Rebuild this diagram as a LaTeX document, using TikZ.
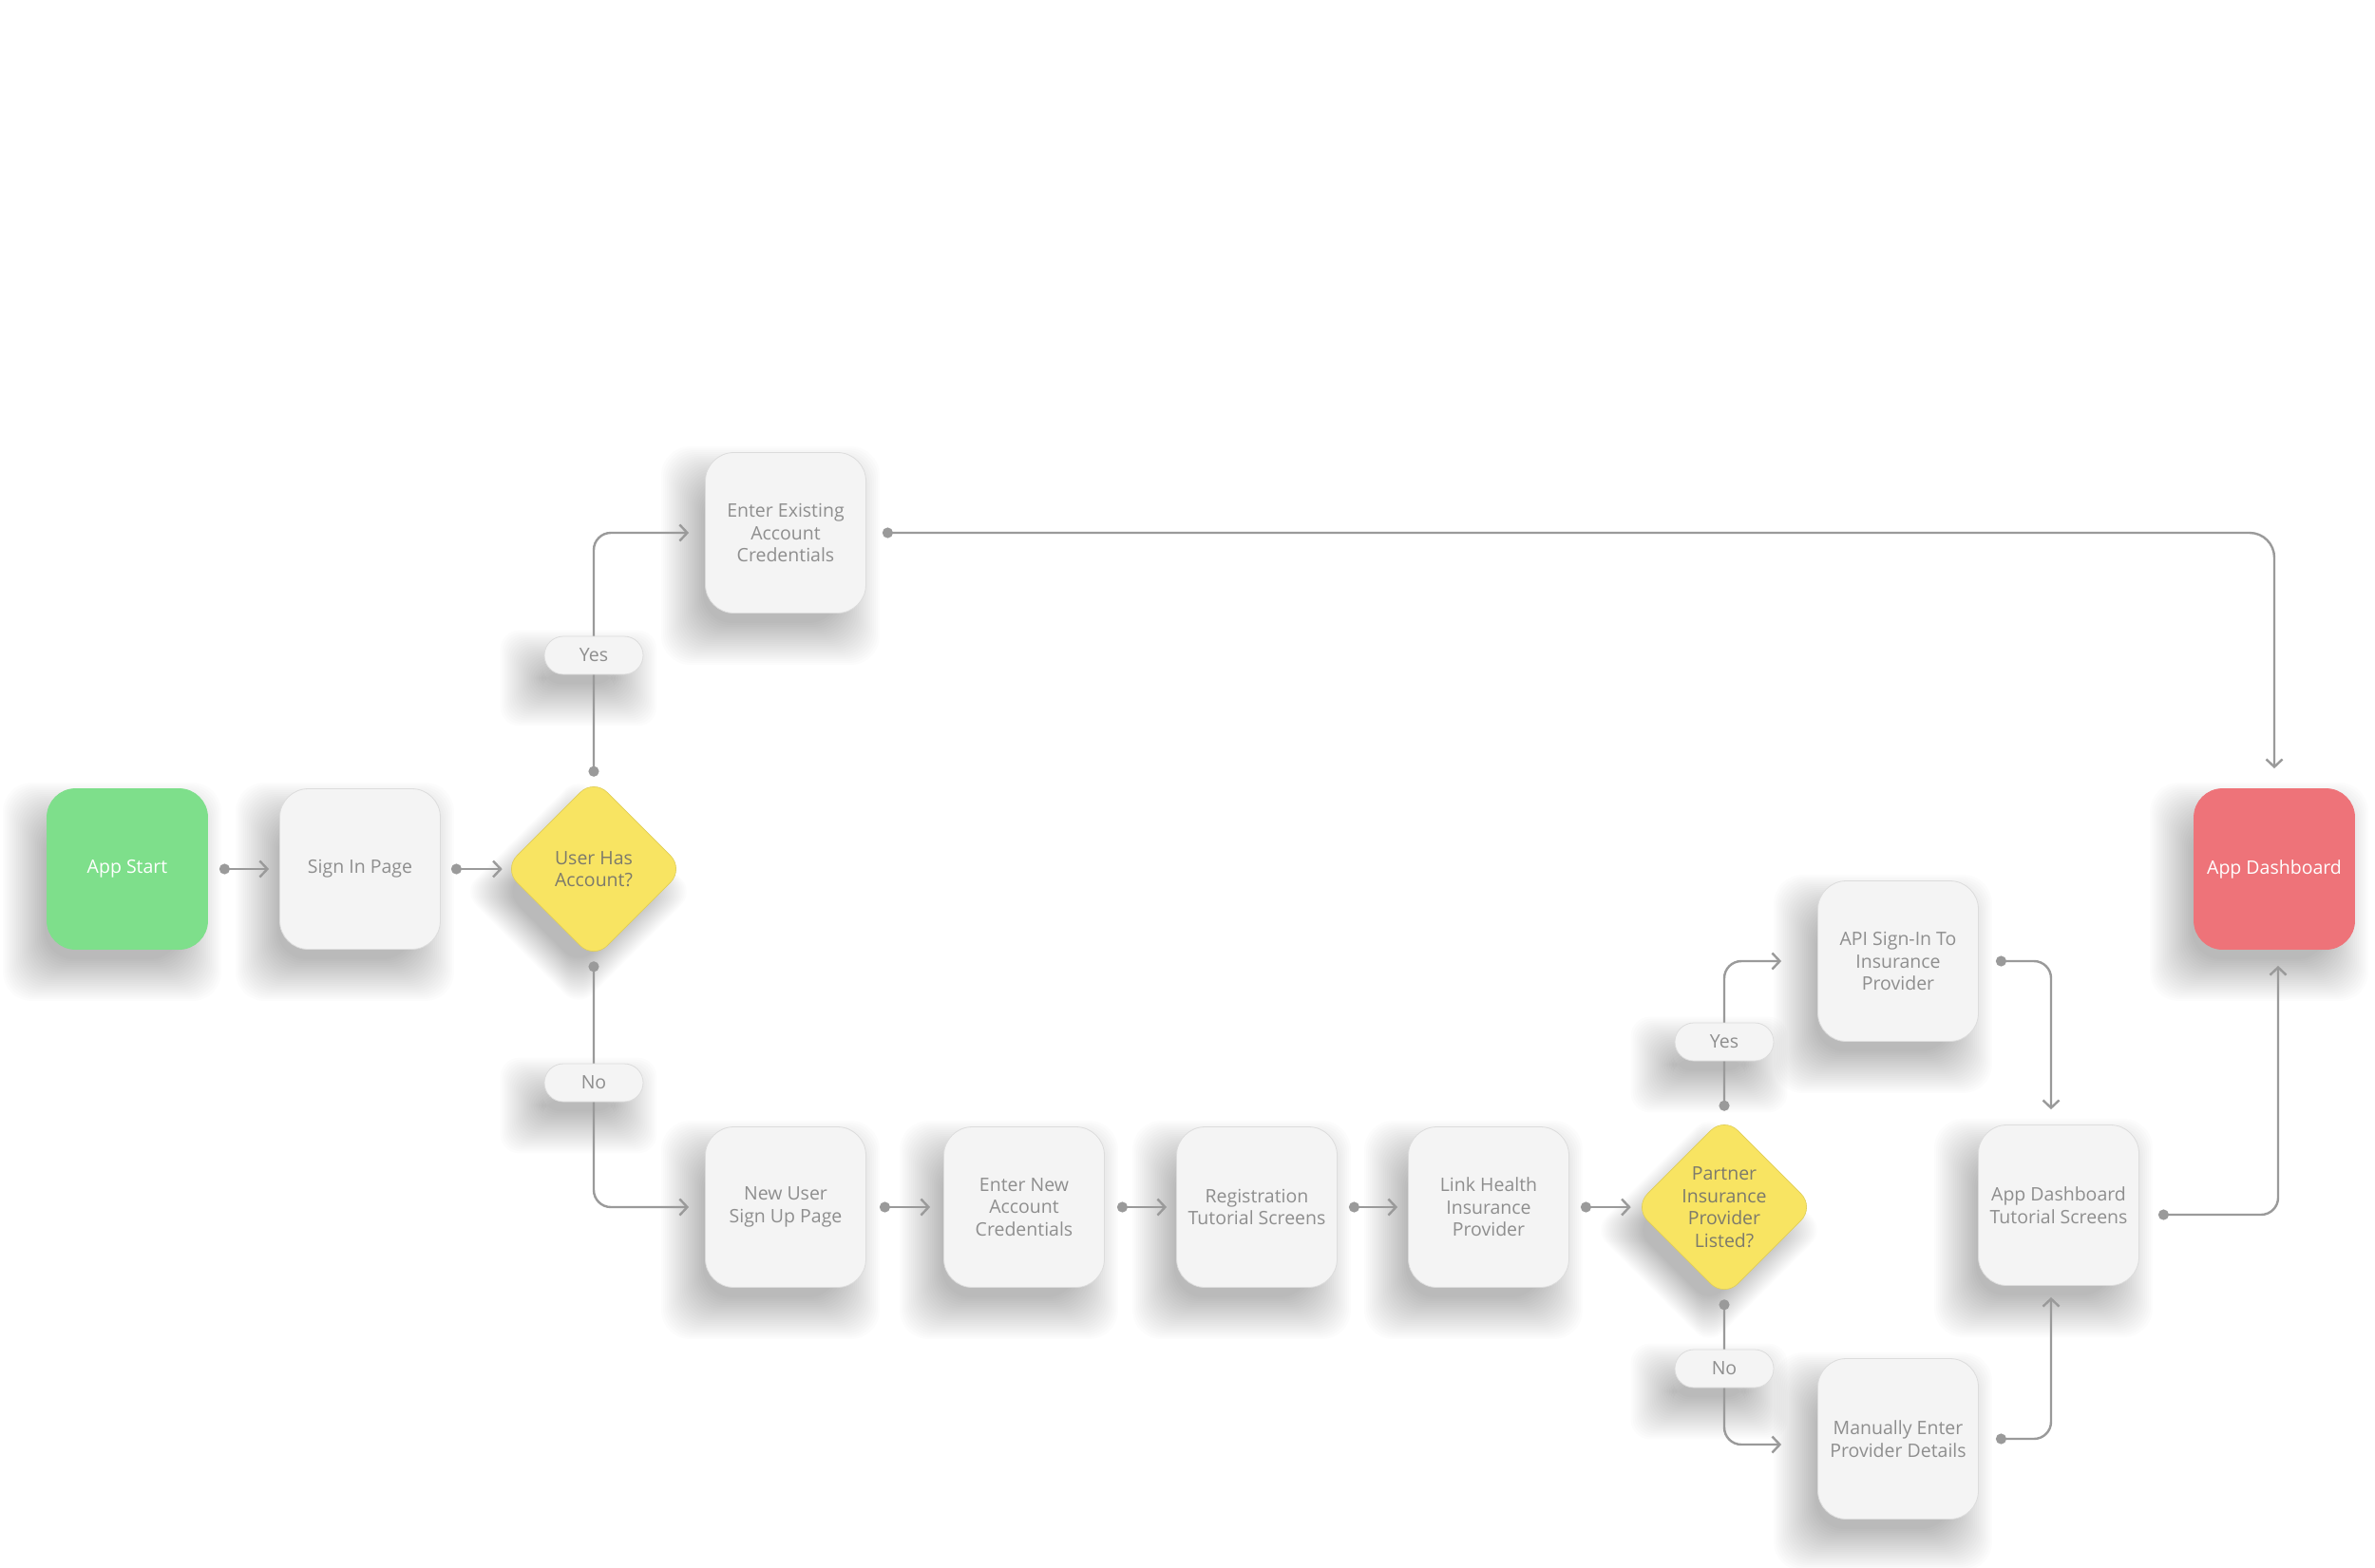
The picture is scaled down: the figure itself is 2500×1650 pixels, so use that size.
\documentclass[tikz,border=0pt]{standalone}
\usepackage{fontspec}
\setmainfont{Open Sans}
\usetikzlibrary{arrows.meta,calc,shapes.geometric}

\definecolor{boxfill}{HTML}{F4F4F4}
\definecolor{boxline}{HTML}{DCDCDC}
\definecolor{txt}{HTML}{8E8E8E}
\definecolor{conncol}{HTML}{9A9A9A}
\definecolor{startgreen}{HTML}{7EDF8B}
\definecolor{endred}{HTML}{EE7379}
\definecolor{decyellow}{HTML}{F8E462}
\definecolor{dectxt}{HTML}{7C7A6C}

\pgfdeclarelayer{bg}
\pgfsetlayers{bg,main}

% soft drop shadow for a rounded box: node name, corner radius
\newcommand{\boxshade}[2]{%
  \begin{pgfonlayer}{bg}
  \foreach \g in {0,2,...,44}{
    \fill[black, opacity=0.013, rounded corners=#2]
      ($(#1.north west)+(-2-\g,38-\g)$) rectangle ($(#1.south east)+(-30+\g,10+\g)$);
  }
  \end{pgfonlayer}}
% soft drop shadow for a diamond: node name
\newcommand{\diamshade}[1]{%
  \begin{pgfonlayer}{bg}
  \foreach \g in {0,2,...,44}{
    \fill[black, opacity=0.013, rounded corners=20pt]
      ($(#1.center)+(-16,-54-\g)$) -- ($(#1.center)+(62+\g,24)$) --
      ($(#1.center)+(-16,102+\g)$) -- ($(#1.center)+(-94-\g,24)$) -- cycle;
  }
  \end{pgfonlayer}}

\begin{document}
\begin{tikzpicture}[x=1pt,y=-1pt,
  lbl/.style={font=\fontsize{19.5}{23.5}\selectfont},
  card/.style={lbl, draw=boxline, line width=0.8pt, fill=boxfill, rounded corners=30pt, minimum width=169pt, minimum height=169pt, inner sep=0pt, align=center, text=txt},
  startbox/.style={card, fill=startgreen, draw=startgreen, text=white},
  endbox/.style={card, fill=endred, draw=endred, text=white},
  decision/.style={diamond, aspect=1, fill=decyellow, draw=decyellow!90!black, line width=0.6pt, rounded corners=20pt, minimum width=190pt, minimum height=190pt, inner sep=0pt},
  dtext/.style={lbl, align=center, text=dectxt},
  pill/.style={lbl, draw=boxline, line width=0.8pt, fill=boxfill, rounded corners=20pt, minimum width=104pt, minimum height=40pt, inner sep=0pt, text=txt},
  link/.style={draw=conncol, line width=2.4pt, rounded corners=18pt, {Circle[length=11pt]}-{Straight Barb[length=8pt,width=17pt]}}
]
\begin{pgfonlayer}{bg}
\fill[white] (0,0) rectangle (2500,1650);
\end{pgfonlayer}
\useasboundingbox (0,0) rectangle (2500,1650);

% nodes
\node[startbox] (start) at (134,915) {App Start};
\node[card] (signin) at (379,915) {Sign In Page};
\node[decision] (d1) at (625,915) {};
\node[dtext] (d1t) at (d1) {User Has\\Account?};
\node[card] (existing) at (827,561) {Enter Existing\\Account\\Credentials};
\node[card] (newuser) at (827,1271) {New User\\Sign Up Page};
\node[card] (newcred) at (1078,1271) {Enter New\\Account\\Credentials};
\node[card] (regtut) at (1323,1271) {Registration\\Tutorial Screens};
\node[card] (link) at (1567,1271) {Link Health\\Insurance\\Provider};
\node[decision] (d2) at (1815,1271) {};
\node[dtext] (d2t) at (d2) {Partner\\Insurance\\Provider\\Listed?};
\node[card] (api) at (1998,1012) {API Sign-In To\\Insurance\\Provider};
\node[card] (manual) at (1998,1515) {Manually Enter\\Provider Details};
\node[card] (dashtut) at (2167,1269) {App Dashboard\\Tutorial Screens};
\node[endbox] (dash) at (2394,915) {App Dashboard};

% connectors
\draw[link, shorten <=12pt, shorten >=11pt] (start.east) -- (signin.west);
\draw[link, shorten <=11pt, shorten >=1pt] (signin.east) -- (d1.west);
\draw[link, shorten <=2pt, shorten >=17pt] (d1.north) |- (existing.west);
\draw[link, shorten <=2pt, shorten >=17pt] (d1.south) |- (newuser.west);
\draw[link, rounded corners=26pt, shorten <=17pt, shorten >=21pt] (existing.east) -| (dash.north);
\draw[link, shorten <=14pt, shorten >=14pt] (newuser.east) -- (newcred.west);
\draw[link, shorten <=13pt, shorten >=10pt] (newcred.east) -- (regtut.west);
\draw[link, shorten <=12pt, shorten >=11pt] (regtut.east) -- (link.west);
\draw[link, shorten <=12pt, shorten >=3pt] (link.east) -- (d2.west);
\draw[link, shorten <=6pt, shorten >=38pt] (d2.north) |- (api.west);
\draw[link, shorten <=2pt, shorten >=38pt] (d2.south) |- ($(manual.west)+(0,6)$);
\draw[link, shorten <=18pt, shorten >=16pt] (api.east) -| ($(dashtut.north)+(-8,0)$);
\draw[link, shorten <=18pt, shorten >=12pt] (manual.east) -| ($(dashtut.south)+(-8,0)$);
\draw[link, shorten <=20pt, shorten >=17pt] ($(dashtut.east)+(0,10)$) -| ($(dash.south)+(4,0)$);

% branch labels
\node[pill] (yes1) at (625,690) {Yes};
\node[pill] (no1) at (625,1140) {No};
\node[pill] (yes2) at (1815,1097) {Yes};
\node[pill] (no2) at (1815,1441) {No};

% shadows
\boxshade{start}{30pt}
\boxshade{signin}{30pt}
\boxshade{existing}{30pt}
\boxshade{newuser}{30pt}
\boxshade{newcred}{30pt}
\boxshade{regtut}{30pt}
\boxshade{link}{30pt}
\boxshade{api}{30pt}
\boxshade{manual}{30pt}
\boxshade{dashtut}{30pt}
\boxshade{dash}{30pt}
\boxshade{yes1}{20pt}
\boxshade{no1}{20pt}
\boxshade{yes2}{20pt}
\boxshade{no2}{20pt}
\diamshade{d1}
\diamshade{d2}
\end{tikzpicture}
\end{document}
